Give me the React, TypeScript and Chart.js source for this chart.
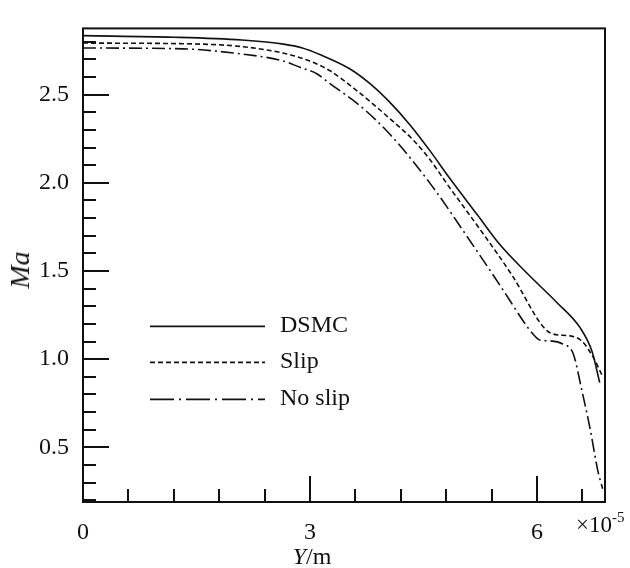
import React, { useEffect, useRef } from "react";
import { Chart, registerables } from "chart.js";

Chart.register(...registerables);

// Y position in units of 1e-5 m
const dsmcPos = [0, 1.2, 2.1, 2.65, 2.9, 3.13, 3.53, 3.79, 4.06, 4.32, 4.59, 4.84, 5.21, 5.51, 5.87, 6.26, 6.57, 6.73, 6.83];
const dsmcMa = [2.835, 2.826, 2.81, 2.787, 2.765, 2.728, 2.646, 2.564, 2.455, 2.33, 2.18, 2.03, 1.82, 1.65, 1.487, 1.323, 1.179, 1.042, 0.867];

const slipPos = [0, 1.55, 2.07, 2.64, 2.87, 3.09, 3.26, 3.66, 4.06, 4.36, 4.59, 4.81, 5.25, 5.68, 6.08, 6.21, 6.44, 6.59, 6.74, 6.86];
const slipMa = [2.793, 2.787, 2.774, 2.737, 2.71, 2.674, 2.637, 2.509, 2.363, 2.245, 2.13, 1.995, 1.735, 1.47, 1.185, 1.143, 1.132, 1.104, 1.014, 0.91];

const noSlipPos = [0, 1.32, 2.07, 2.64, 2.87, 3.09, 3.26, 3.66, 4.06, 4.6, 5.07, 5.51, 5.87, 5.95, 6.04, 6.17, 6.34, 6.48, 6.59, 6.7, 6.81, 6.87];
const noSlipMa = [2.765, 2.76, 2.732, 2.692, 2.655, 2.619, 2.564, 2.438, 2.274, 1.99, 1.7, 1.42, 1.185, 1.141, 1.108, 1.104, 1.086, 1.031, 0.831, 0.612, 0.358, 0.265];

const seriesNames = ["DSMC", "Slip", "No slip"];

const xMajorTicks = [0, 3, 6];
const xMinorTicks = [0.6, 1.2, 1.8, 2.4, 3.6, 4.2, 4.8, 5.4, 6.6];
const yMajorTicks = [0.5, 1.0, 1.5, 2.0, 2.5];
const yMinorTicks = [0.2, 0.3, 0.4, 0.6, 0.7, 0.8, 0.9, 1.1, 1.2, 1.3, 1.4, 1.6, 1.7, 1.8, 1.9, 2.1, 2.2, 2.3, 2.4, 2.6, 2.7, 2.8];

const X_MIN = 0;
const X_MAX = 6.9;
const Y_MIN = 0.19;
const Y_MAX = 2.876;

const FONT = '"Liberation Serif"';
const INK = "#111";

const dashSlip = [5, 3];
const dashNoSlip = [13, 4, 2, 4];
const legendDashNoSlip = [24, 5, 2, 5];

const toPts = (xs: number[], ys: number[]) => xs.map((x, i) => ({ x, y: ys[i] }));

const decorPlugin = {
  id: "decor",
  afterDraw(chart: any) {
    const { ctx, chartArea } = chart;
    const xs = chart.scales.x;
    const ys = chart.scales.y;
    const { left, right, top, bottom } = chartArea;
    ctx.save();
    ctx.strokeStyle = INK;
    ctx.fillStyle = INK;
    ctx.lineWidth = 2;
    ctx.setLineDash([]);
    ctx.beginPath();
    xMajorTicks.forEach((v) => {
      const px = Math.round(xs.getPixelForValue(v));
      ctx.moveTo(px, bottom);
      ctx.lineTo(px, bottom - 26);
    });
    xMinorTicks.forEach((v) => {
      const px = Math.round(xs.getPixelForValue(v));
      ctx.moveTo(px, bottom);
      ctx.lineTo(px, bottom - 13);
    });
    yMajorTicks.forEach((v) => {
      const py = Math.round(ys.getPixelForValue(v));
      ctx.moveTo(left, py);
      ctx.lineTo(left + 26, py);
    });
    yMinorTicks.forEach((v) => {
      const py = Math.round(ys.getPixelForValue(v));
      ctx.moveTo(left, py);
      ctx.lineTo(left + 13, py);
    });
    ctx.stroke();
    ctx.lineWidth = 2;
    ctx.strokeRect(left, top, right - left, bottom - top);

    // legend
    const lx0 = left + 67;
    const lx1 = left + 182;
    const ltx = left + 197;
    const rows = [top + 298, top + 334, top + 371];
    const dashes = [[], dashSlip, legendDashNoSlip];
    ctx.lineWidth = 1.6;
    ctx.font = `24px ${FONT}`;
    ctx.textBaseline = "alphabetic";
    ctx.textAlign = "left";
    rows.forEach((ry, i) => {
      ctx.setLineDash(dashes[i]);
      ctx.beginPath();
      ctx.moveTo(lx0, ry);
      ctx.lineTo(lx1, ry);
      ctx.stroke();
      ctx.setLineDash([]);
      ctx.fillText(seriesNames[i], ltx, ry + 6);
    });
    ctx.restore();
  },
};

const serif = '"Liberation Serif", "Times New Roman", serif';

export default function App() {
  const ref = useRef<HTMLCanvasElement | null>(null);
  useEffect(() => {
    if (!ref.current) return;
    const chart = new Chart(ref.current, {
      type: "line",
      data: {
        datasets: [
          {
            label: seriesNames[0],
            data: toPts(dsmcPos, dsmcMa),
            borderColor: INK,
            borderWidth: 1.6,
            pointRadius: 0,
            cubicInterpolationMode: "monotone",
            fill: false,
          },
          {
            label: seriesNames[1],
            data: toPts(slipPos, slipMa),
            borderColor: INK,
            borderWidth: 1.6,
            borderDash: dashSlip,
            pointRadius: 0,
            cubicInterpolationMode: "monotone",
            fill: false,
          },
          {
            label: seriesNames[2],
            data: toPts(noSlipPos, noSlipMa),
            borderColor: INK,
            borderWidth: 1.6,
            borderDash: dashNoSlip,
            pointRadius: 0,
            cubicInterpolationMode: "monotone",
            fill: false,
          },
        ],
      },
      options: {
        responsive: false,
        animation: false,
        layout: { padding: { left: 8, right: 25, top: 13, bottom: 0 } },
        plugins: { legend: { display: false }, tooltip: { enabled: false } },
        scales: {
          x: {
            type: "linear",
            min: X_MIN,
            max: X_MAX,
            grid: { display: false, drawTicks: false },
            border: { display: false },
            afterBuildTicks: (s: any) => {
              s.ticks = xMajorTicks.map((v) => ({ value: v }));
            },
            afterFit: (s: any) => {
              s.height = 66;
            },
            ticks: {
              autoSkip: false,
              maxRotation: 0,
              padding: 16,
              color: INK,
              font: { family: FONT, size: 24 },
              callback: (v: any) => String(v),
            },
          },
          y: {
            type: "linear",
            min: Y_MIN,
            max: Y_MAX,
            grid: { display: false, drawTicks: false },
            border: { display: false },
            afterBuildTicks: (s: any) => {
              s.ticks = yMajorTicks.map((v) => ({ value: v }));
            },
            afterFit: (s: any) => {
              s.width = 75;
            },
            ticks: {
              autoSkip: false,
              padding: 14,
              color: INK,
              font: { family: FONT, size: 24 },
              callback: (v: any) => Number(v).toFixed(1),
            },
          },
        },
      },
      plugins: [decorPlugin],
    } as any);
    let alive = true;
    const redraw = () => {
      if (alive) chart.update();
    };
    requestAnimationFrame(redraw);
    setTimeout(redraw, 50);
    const fontsApi: any = (document as any).fonts;
    if (fontsApi && fontsApi.ready) fontsApi.ready.then(redraw);
    return () => {
      alive = false;
      chart.destroy();
    };
  }, []);

  const base: React.CSSProperties = {
    position: "absolute",
    fontFamily: serif,
    color: INK,
    whiteSpace: "nowrap",
    margin: 0,
  };

  return (
    <div style={{ position: "absolute", left: 0, top: 0, width: 630, height: 568, background: "#fff", overflow: "hidden" }}>
      <canvas ref={ref} width={630} height={568} style={{ display: "block" }} />
      <div
        style={{
          ...base,
          left: 20,
          top: 270,
          fontSize: 28,
          lineHeight: "28px",
          fontStyle: "italic",
          transform: "translate(-50%, -50%) rotate(-90deg)",
        }}
      >
        Ma
      </div>
      <div
        style={{
          ...base,
          left: 312,
          top: 544,
          fontSize: 24,
          lineHeight: "24px",
          transform: "translateX(-50%)",
        }}
      >
        <i>Y</i>/m
      </div>
      <div style={{ ...base, left: 576, top: 513, fontSize: 23, lineHeight: "23px" }}>
        {"\u00d710"}
        <span style={{ fontSize: 15, position: "relative", top: -10 }}>-5</span>
      </div>
    </div>
  );
}
